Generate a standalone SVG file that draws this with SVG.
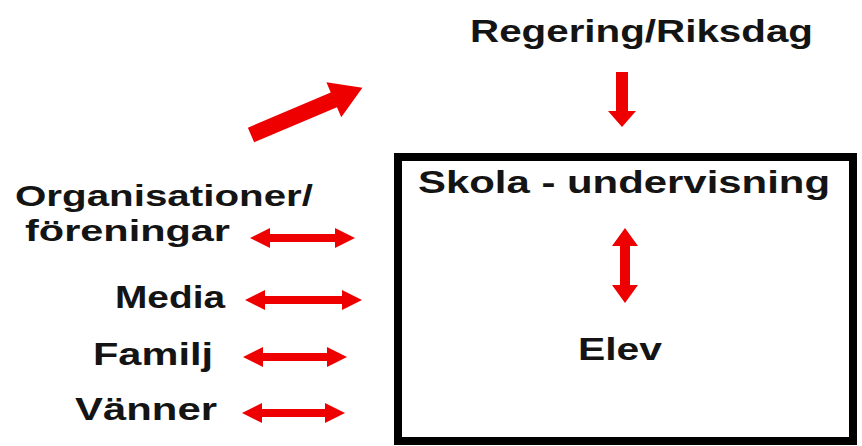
<svg xmlns="http://www.w3.org/2000/svg" width="862" height="446" viewBox="0 0 862 446">
<style>
.t{font-family:"Liberation Sans",Arial,sans-serif;font-weight:bold;font-size:32px;fill:#141414}
.s{font-size:30px}
.a{fill:#ee0000}
.box{fill:#fff;stroke:#000;stroke-width:8}
</style>
<rect width="862" height="446" fill="#fff"/>
<g id="skola">
<rect class="box" x="398" y="157" width="455" height="284"/>
<text class="t" x="418" y="193" textLength="412" lengthAdjust="spacingAndGlyphs">Skola - undervisning</text>
</g>
<g id="elev">
<text class="t" x="578" y="360" textLength="84" lengthAdjust="spacingAndGlyphs">Elev</text>
</g>
<g id="regering">
<text class="t" x="470" y="42" textLength="343" lengthAdjust="spacingAndGlyphs">Regering/Riksdag</text>
</g>
<g id="organisationer">
<text class="t s" x="15" y="206" textLength="298" lengthAdjust="spacingAndGlyphs">Organisationer/</text>
<text class="t s" x="25" y="241" textLength="205" lengthAdjust="spacingAndGlyphs">föreningar</text>
</g>
<g id="media">
<text class="t" x="115" y="308" textLength="110" lengthAdjust="spacingAndGlyphs">Media</text>
</g>
<g id="familj">
<text class="t" x="93" y="365" textLength="120" lengthAdjust="spacingAndGlyphs">Familj</text>
</g>
<g id="vanner">
<text class="t" x="75" y="420" textLength="142" lengthAdjust="spacingAndGlyphs">Vänner</text>
</g>
<g id="connectors">
<polygon class="a" transform="translate(251,135) rotate(-23)" points="0,-8 90,-8 90,-19 121,0 90,19 90,8 0,8"/>
<polygon class="a" points="616,72 628,72 628,111 636,111 622,127 608,111 616,111"/>
<polygon class="a" points="625,228 638,246 630,246 630,285 638,285 625,303 612,285 620,285 620,246 612,246"/>
<polygon class="a" points="250,238 270,228 270,234 335,234 335,228 355,238 335,248 335,242 270,242 270,248"/>
<polygon class="a" points="245,300 265,290 265,296 342,296 342,290 362,300 342,310 342,304 265,304 265,310"/>
<polygon class="a" points="243,357 263,347 263,353 327,353 327,347 347,357 327,367 327,361 263,361 263,367"/>
<polygon class="a" points="242,413 262,403 262,409 325,409 325,403 345,413 325,423 325,417 262,417 262,423"/>
</g>
</svg>
